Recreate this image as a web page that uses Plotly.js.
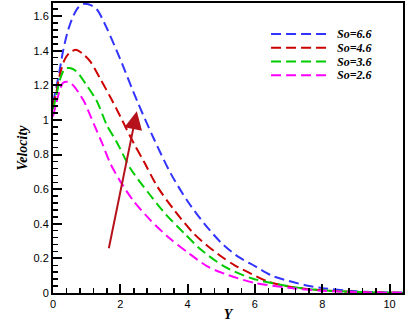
<!DOCTYPE html>
<html>
<head>
<meta charset="utf-8">
<script src="https://cdn.plot.ly/plotly-3.0.1.min.js"></script>
<style>
  html, body { margin: 0; padding: 0; background: #fff; }
  #chart { width: 413px; height: 324px; }
</style>
</head>
<body>
<div id="chart"></div>
<script>
// velocity profiles, one array pair per So value
const y66 = [0, 0.1, 0.2, 0.3, 0.45, 0.6, 0.75, 0.9, 1.1, 1.3, 1.6, 2.0, 2.5, 3.0, 3.5, 4.0, 4.5, 5.0, 5.5, 6.0, 6.5, 7.0, 7.5, 8.0, 9.0, 10.0, 10.4];
const v66 = [1.10, 1.19, 1.29, 1.40, 1.52, 1.60, 1.65, 1.67, 1.665, 1.64, 1.53, 1.35, 1.11, 0.89, 0.69, 0.53, 0.40, 0.29, 0.21, 0.155, 0.10, 0.07, 0.045, 0.028, 0.01, 0.003, 0.002];

const y46 = [0, 0.1, 0.2, 0.35, 0.5, 0.7, 0.9, 1.1, 1.4, 1.75, 2.0, 2.4, 2.7, 3.1, 3.6, 4.2, 4.9, 5.4, 5.9, 6.4, 7.0, 7.7, 8.5, 9.5, 10.4];
const v46 = [1.08, 1.16, 1.26, 1.35, 1.39, 1.405, 1.38, 1.34, 1.24, 1.115, 1.02, 0.865, 0.76, 0.615, 0.48, 0.34, 0.225, 0.16, 0.11, 0.065, 0.038, 0.02, 0.01, 0.004, 0.001];

const y36 = [0, 0.1, 0.2, 0.35, 0.5, 0.7, 1.0, 1.3, 1.6, 1.9, 2.3, 2.85, 3.35, 3.9, 4.4, 5.1, 5.9, 6.8, 7.5, 8.3, 9.2, 10.4];
const v36 = [1.06, 1.14, 1.23, 1.295, 1.30, 1.28, 1.20, 1.11, 0.97, 0.87, 0.72, 0.575, 0.455, 0.345, 0.25, 0.152, 0.085, 0.046, 0.025, 0.012, 0.005, 0.001];

const y26 = [0, 0.1, 0.2, 0.3, 0.45, 0.6, 0.9, 1.1, 1.25, 1.45, 1.7, 2.0, 2.4, 2.9, 3.5, 4.0, 4.6, 5.2, 6.0, 7.0, 8.0, 9.0, 10.4];
const v26 = [1.02, 1.10, 1.17, 1.215, 1.22, 1.20, 1.115, 1.03, 0.96, 0.87, 0.75, 0.645, 0.53, 0.42, 0.31, 0.235, 0.152, 0.104, 0.058, 0.03, 0.013, 0.005, 0.001];

const soLabels = ['So=6.6', 'So=4.6', 'So=3.6', 'So=2.6'];
const colors = ['#3333ff', '#cc0000', '#00cc00', '#ff00ff'];

// arrow from tail to head, in data units
const arrowTail = [1.65, 0.25];
const arrowHead = [2.49, 1.05];

const xs = [y66, y46, y36, y26];
const ys = [v66, v46, v36, v26];
const dashStyle = '10px,5px';

const data = soLabels.map((name, i) => ({
  x: xs[i],
  y: ys[i],
  type: 'scatter',
  mode: 'lines',
  name: name,
  line: { color: colors[i], width: 2, dash: dashStyle, shape: 'spline', smoothing: 0.8 }
}));

const axisFont = { family: 'Liberation Sans, Arial, sans-serif', size: 11, color: '#000' };
const serifFont = { family: 'Liberation Serif, Times New Roman, serif', size: 14, color: '#000', weight: 'bold', style: 'italic' };

// hand-drawn legend (the original uses long dash samples, tighter rows)
const legendShapes = [];
const legendNotes = [];
soLabels.forEach((name, i) => {
  const yy = 0.893 - i * 0.0475;
  legendShapes.push({
    type: 'line', xref: 'paper', yref: 'paper',
    x0: 0.623, x1: 0.786, y0: yy, y1: yy,
    line: { color: colors[i], width: 2, dash: dashStyle }
  });
  legendNotes.push({
    xref: 'paper', yref: 'paper', x: 0.806, y: yy,
    xanchor: 'left', yanchor: 'middle', showarrow: false,
    text: name, font: Object.assign({}, serifFont, { size: 12 })
  });
});

const layout = {
  width: 413,
  height: 324,
  margin: { l: 53, r: 10, t: 3, b: 31 },
  paper_bgcolor: '#fff',
  plot_bgcolor: '#fff',
  showlegend: false,
  xaxis: {
    range: [0, 10.4],
    dtick: 2,
    ticks: 'inside', ticklen: 9, tickwidth: 2, tickcolor: '#000',
    minor: { dtick: 0.4, ticks: 'inside', ticklen: 5, tickwidth: 1.5, tickcolor: '#000' },
    showline: true, linecolor: '#000', linewidth: 2, mirror: true,
    showgrid: false, zeroline: false,
    tickfont: axisFont,
    title: { text: 'Y', font: serifFont, standoff: 0 }
  },
  yaxis: {
    range: [0, 1.676],
    dtick: 0.2,
    ticks: 'inside', ticklen: 9, tickwidth: 2, tickcolor: '#000',
    minor: { dtick: 0.04, ticks: 'inside', ticklen: 5, tickwidth: 1.5, tickcolor: '#000' },
    showline: true, linecolor: '#000', linewidth: 2, mirror: true,
    showgrid: false, zeroline: false,
    tickfont: axisFont,
    title: { text: 'Velocity', font: serifFont, standoff: 3 }
  },
  shapes: legendShapes,
  annotations: legendNotes.concat([{
    x: arrowHead[0], y: arrowHead[1], xref: 'x', yref: 'y',
    ax: arrowTail[0], ay: arrowTail[1], axref: 'x', ayref: 'y',
    text: '', showarrow: true,
    arrowhead: 2, arrowsize: 1.8, arrowwidth: 2, arrowcolor: '#b5121b'
  }])
};

Plotly.newPlot('chart', data, layout, { displayModeBar: false, staticPlot: true });
</script>
</body>
</html>
